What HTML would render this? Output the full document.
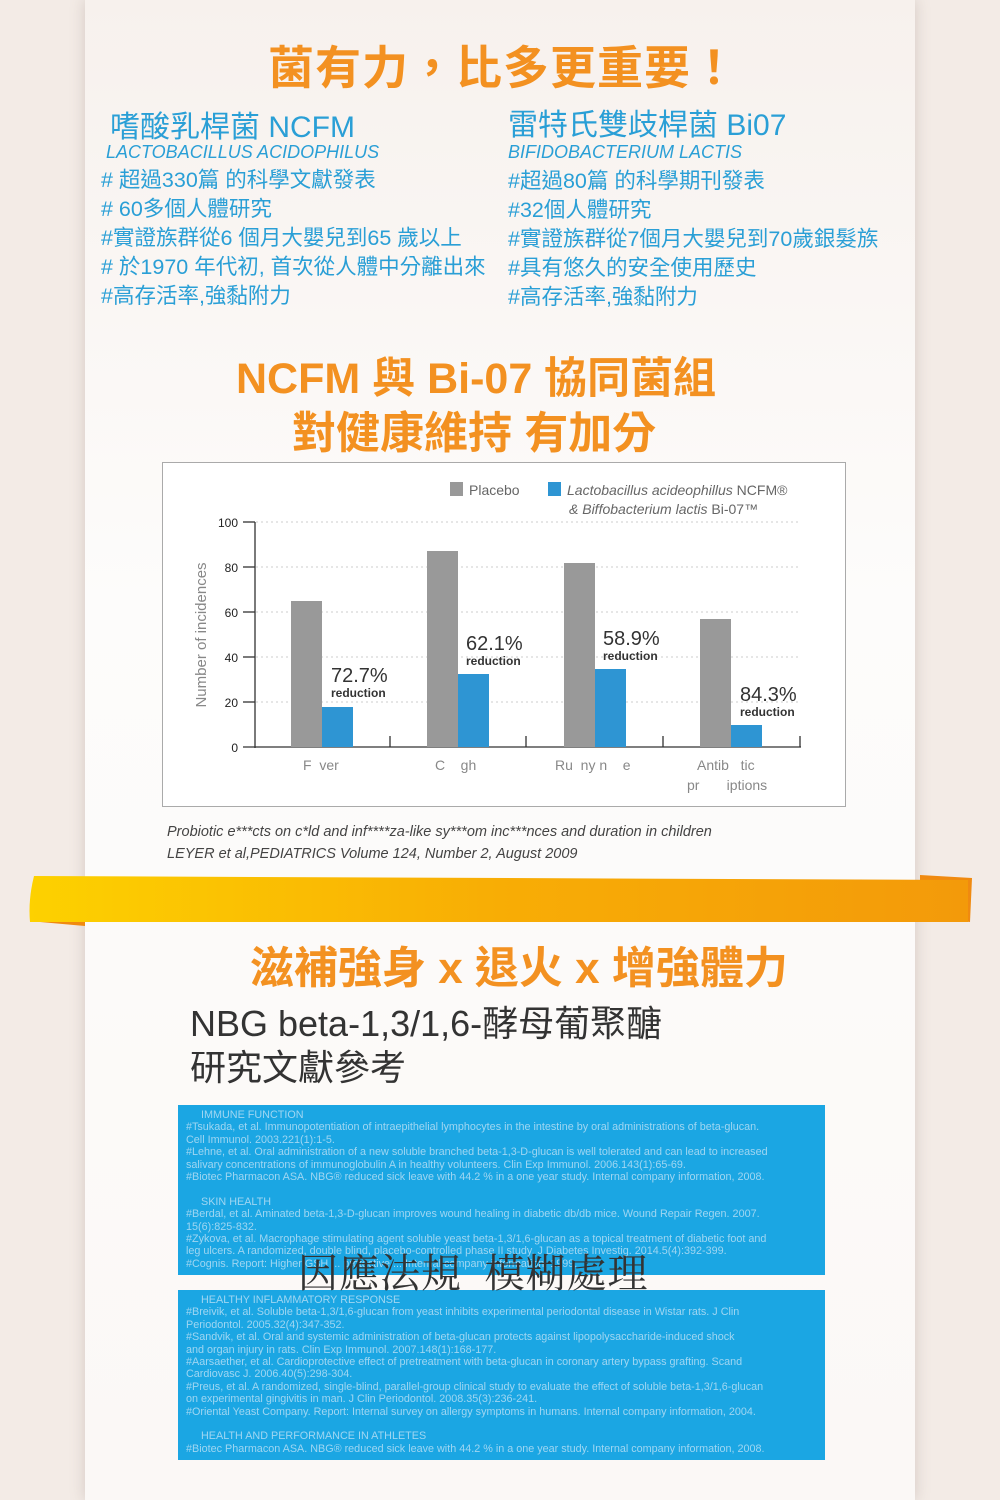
<!DOCTYPE html>
<html><head><meta charset="utf-8"><style>
*{margin:0;padding:0;box-sizing:border-box}
body{width:1000px;height:1500px;position:relative;overflow:hidden;background:#f3ebe6;font-family:"Liberation Sans","Noto Sans CJK TC",sans-serif}
.a{position:absolute;white-space:nowrap}
.panel{position:absolute;left:85px;top:0;width:830px;height:1500px;background:linear-gradient(#f7f1ed,#fdfcfb 40%,#fbf8f6);box-shadow:0 0 14px rgba(120,100,90,.25)}
.or{color:#f39121;font-weight:bold}
.bl{color:#2a9fd6}
.li{font-size:21.5px;line-height:29px}
.cb{position:absolute;left:178px;width:647px;background:#1ba6e3;color:#9fd6f2;font-size:10.8px;line-height:12.4px;padding:4px 8px;white-space:pre;overflow:hidden}
</style></head><body>
<div class="panel"></div>
<div class="a or" style="left:268px;top:32px;font-size:46px;letter-spacing:1px">菌有力，比多更重要！</div>
<div class="a bl" style="left:110px;top:102px;font-size:30px">嗜酸乳桿菌 NCFM</div>
<div class="a bl" style="left:106px;top:142px;font-size:18px;font-style:italic">LACTOBACILLUS ACIDOPHILUS</div>
<div class="a bl li" style="left:101px;top:166px">#&nbsp;超過330篇 的科學文獻發表<br>#&nbsp;60多個人體研究<br>#實證族群從6 個月大嬰兒到65 歲以上<br>#&nbsp;於1970 年代初, 首次從人體中分離出來<br>#高存活率,強黏附力</div>
<div class="a bl" style="left:508px;top:100px;font-size:30px">雷特氏雙歧桿菌 Bi07</div>
<div class="a bl" style="left:508px;top:142px;font-size:18px;font-style:italic">BIFIDOBACTERIUM LACTIS</div>
<div class="a bl li" style="left:508px;top:167px">#超過80篇 的科學期刊發表<br>#32個人體研究<br>#實證族群從7個月大嬰兒到70歲銀髮族<br>#具有悠久的安全使用歷史<br>#高存活率,強黏附力</div>
<div class="a or" style="left:236px;top:344px;font-size:43px">NCFM 與 Bi-07 協同菌組</div>
<div class="a or" style="left:292px;top:397px;font-size:44px">對健康維持 有加分</div>
<svg class="a" style="left:0;top:0" width="1000" height="900" font-family="Liberation Sans, sans-serif">
<rect x="162.5" y="462.5" width="683" height="344" fill="#fff" stroke="#aaa"/>
<rect x="450" y="482" width="13" height="14" fill="#999"/>
<text x="469" y="495" font-size="14" fill="#666">Placebo</text>
<rect x="548" y="482" width="13" height="14" fill="#2e95d3"/>
<text x="567" y="495" font-size="14" fill="#666" font-style="italic">Lactobacillus acideophillus <tspan font-style="normal">NCFM®</tspan></text>
<text x="569" y="514" font-size="14" fill="#666" font-style="italic">&amp; Biffobacterium lactis <tspan font-style="normal">Bi-07™</tspan></text>
<g stroke="#ccc" stroke-dasharray="2,3"><line x1="256" y1="522" x2="800" y2="522"/><line x1="256" y1="567" x2="800" y2="567"/><line x1="256" y1="612" x2="800" y2="612"/><line x1="256" y1="657" x2="800" y2="657"/><line x1="256" y1="702" x2="800" y2="702"/></g>
<g font-size="12" fill="#222" text-anchor="end"><text x="238" y="527">100</text><text x="238" y="572">80</text><text x="238" y="617">60</text><text x="238" y="662">40</text><text x="238" y="707">20</text><text x="238" y="752">0</text></g>
<g stroke="#333" stroke-width="1.3"><line x1="255" y1="522" x2="255" y2="748"/><line x1="243" y1="747" x2="801" y2="747"/>
<line x1="243" y1="522" x2="255" y2="522"/><line x1="243" y1="567" x2="255" y2="567"/><line x1="243" y1="612" x2="255" y2="612"/><line x1="243" y1="657" x2="255" y2="657"/><line x1="243" y1="702" x2="255" y2="702"/>
<line x1="390" y1="736" x2="390" y2="747"/><line x1="526" y1="736" x2="526" y2="747"/><line x1="663" y1="736" x2="663" y2="747"/><line x1="800" y1="736" x2="800" y2="747"/></g>
<text transform="translate(206,635) rotate(-90)" font-size="15" fill="#888" text-anchor="middle">Number of incidences</text>
<g fill="#999"><rect x="291" y="601" width="31" height="146"/><rect x="427" y="551" width="31" height="196"/><rect x="564" y="563" width="31" height="184"/><rect x="700" y="619" width="31" height="128"/></g>
<g fill="#2e95d3"><rect x="322" y="707" width="31" height="40"/><rect x="458" y="674" width="31" height="73"/><rect x="595" y="669" width="31" height="78"/><rect x="731" y="725" width="31" height="22"/></g>
<g fill="#333"><text x="331" y="682" font-size="20">72.7%</text><text x="331" y="697" font-size="12" font-weight="bold">reduction</text>
<text x="466" y="650" font-size="20">62.1%</text><text x="466" y="665" font-size="12" font-weight="bold">reduction</text>
<text x="603" y="645" font-size="20">58.9%</text><text x="603" y="660" font-size="12" font-weight="bold">reduction</text>
<text x="740" y="701" font-size="20">84.3%</text><text x="740" y="716" font-size="12" font-weight="bold">reduction</text></g>
<g font-size="14" fill="#888"><text x="303" y="770">F&#160;&#160;ver</text><text x="435" y="770">C&#160;&#160;&#160;&#160;gh</text><text x="555" y="770">Ru&#160;&#160;ny&#160;n&#160;&#160;&#160;&#160;e</text><text x="697" y="770">Antib&#160;&#160;&#160;tic</text><text x="687" y="790">pr&#160;&#160;&#160;&#160;&#160;&#160;&#160;iptions</text></g>
<text x="167" y="836" font-size="14.5" fill="#444" font-style="italic">Probiotic e***cts on c*ld and inf****za-like sy***om inc***nces and duration in children</text>
<text x="167" y="858" font-size="14.5" fill="#444" font-style="italic">LEYER et al,PEDIATRICS Volume 124, Number 2, August 2009</text>
</svg>
<svg class="a" style="left:0;top:870" width="1000" height="60">
<defs><linearGradient id="g" x1="0" x2="1" y1="0" y2="0"><stop offset="0" stop-color="#fdd100"/><stop offset=".5" stop-color="#f8ad05"/><stop offset="1" stop-color="#f39a0a"/></linearGradient></defs>
<path d="M920 5 L972 8 L970 52 L920 47Z" fill="#f08a10"/>
<path d="M30 44 L85 46 L85 56 L40 52Z" fill="#f08a10"/>
<path d="M34 6 L968 10 L968 52 L30 52 Q28 30 34 6Z" fill="url(#g)"/>
</svg>
<div class="a or" style="left:250px;top:932px;font-size:44px">滋補強身 x 退火 x 增強體力</div>
<div class="a" style="left:190px;top:1002px;font-size:36px;color:#333;line-height:44px">NBG beta-1,3/1,6-酵母葡聚醣<br>研究文獻參考</div>
<div class="cb" style="top:1105px;height:170px">     IMMUNE FUNCTION
#Tsukada, et al. Immunopotentiation of intraepithelial lymphocytes in the intestine by oral administrations of beta-glucan.
Cell Immunol. 2003.221(1):1-5.
#Lehne, et al. Oral administration of a new soluble branched beta-1,3-D-glucan is well tolerated and can lead to increased
salivary concentrations of immunoglobulin A in healthy volunteers. Clin Exp Immunol. 2006.143(1):65-69.
#Biotec Pharmacon ASA. NBG® reduced sick leave with 44.2 % in a one year study. Internal company information, 2008.

     SKIN HEALTH
#Berdal, et al. Aminated beta-1,3-D-glucan improves wound healing in diabetic db/db mice. Wound Repair Regen. 2007.
15(6):825-832.
#Zykova, et al. Macrophage stimulating agent soluble yeast beta-1,3/1,6-glucan as a topical treatment of diabetic foot and
leg ulcers. A randomized, double blind, placebo-controlled phase II study. J Diabetes Investig. 2014.5(4):392-399.
#Cognis. Report: Higher GSH ... protective ... Internal company information. 1999.</div>
<div class="cb" style="top:1290px;height:170px">     HEALTHY INFLAMMATORY RESPONSE
#Breivik, et al. Soluble beta-1,3/1,6-glucan from yeast inhibits experimental periodontal disease in Wistar rats. J Clin
Periodontol. 2005.32(4):347-352.
#Sandvik, et al. Oral and systemic administration of beta-glucan protects against lipopolysaccharide-induced shock
and organ injury in rats. Clin Exp Immunol. 2007.148(1):168-177.
#Aarsaether, et al. Cardioprotective effect of pretreatment with beta-glucan in coronary artery bypass grafting. Scand
Cardiovasc J. 2006.40(5):298-304.
#Preus, et al. A randomized, single-blind, parallel-group clinical study to evaluate the effect of soluble beta-1,3/1,6-glucan
on experimental gingivitis in man. J Clin Periodontol. 2008.35(3):236-241.
#Oriental Yeast Company. Report: Internal survey on allergy symptoms in humans. Internal company information, 2004.

     HEALTH AND PERFORMANCE IN ATHLETES
#Biotec Pharmacon ASA. NBG® reduced sick leave with 44.2 % in a one year study. Internal company information, 2008.</div>
<div class="a" style="left:298px;top:1242px;font-size:40px;color:#333;font-family:'Noto Serif CJK SC','Noto Sans CJK TC',serif;letter-spacing:1px">因應法規&nbsp;&nbsp;模糊處理</div>
</body></html>
